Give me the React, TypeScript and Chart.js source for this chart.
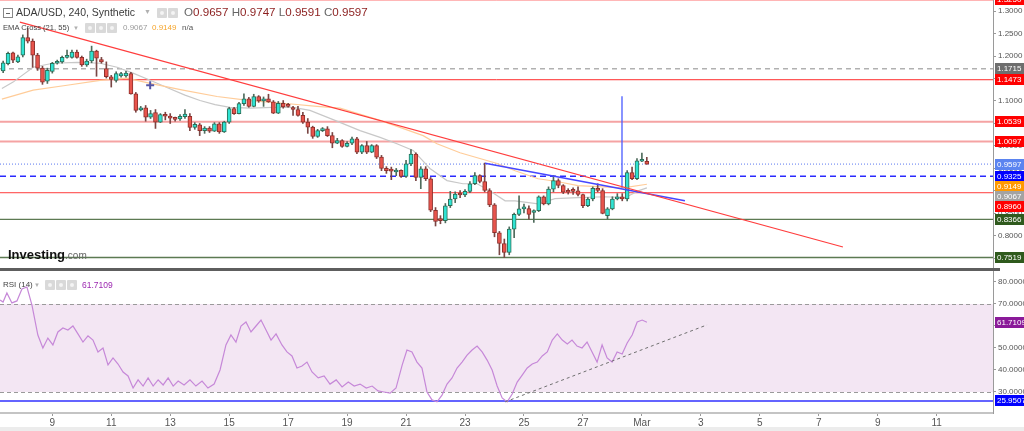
import React, { useEffect, useRef } from "react";
import { Chart, registerables } from "chart.js";

Chart.register(...registerables);

const FONT = "'Liberation Sans', Arial, sans-serif";
const NARROW = "'Liberation Sans Narrow', 'Liberation Sans', Arial, sans-serif";

// ---------- data ----------
const candleStartDay = 7 + 8 / 24; // Feb 7, 08:00 (x axis in days of February)
const candleStepDays = 4 / 24; // 240-minute candles

const candleOpen = [
  1.167, 1.183, 1.207, 1.187, 1.202, 1.241, 1.233, 1.202, 1.173, 1.144,
  1.166, 1.184, 1.187, 1.197, 1.197, 1.209, 1.197, 1.180, 1.189, 1.211,
  1.192, 1.172, 1.154, 1.146, 1.156, 1.156, 1.161, 1.116, 1.080, 1.085,
  1.064, 1.074, 1.053, 1.070, 1.064, 1.061, 1.060, 1.065, 1.066, 1.041,
  1.047, 1.034, 1.040, 1.033, 1.049, 1.031, 1.053, 1.083, 1.072, 1.094,
  1.105, 1.088, 1.110, 1.100, 1.105, 1.098, 1.073, 1.095, 1.089, 1.085,
  1.081, 1.068, 1.053, 1.042, 1.021, 1.034, 1.038, 1.023, 1.006, 1.012,
  0.999, 1.006, 1.016, 0.986, 1.001, 0.986, 1.001, 0.975, 0.950, 0.946,
  0.942, 0.946, 0.932, 0.960, 0.982, 0.930, 0.949, 0.927, 0.857, 0.838,
  0.834, 0.867, 0.882, 0.893, 0.891, 0.899, 0.916, 0.934, 0.921, 0.901,
  0.869, 0.807, 0.783, 0.763, 0.815, 0.848, 0.860, 0.861, 0.852, 0.856,
  0.887, 0.871, 0.904, 0.923, 0.912, 0.900, 0.901, 0.900, 0.892, 0.867,
  0.882, 0.906, 0.901, 0.845, 0.860, 0.882, 0.887, 0.882, 0.941, 0.927,
  0.966, 0.9657,
];
const candleHigh = [
  1.189, 1.209, 1.209, 1.202, 1.247, 1.262, 1.238, 1.206, 1.177, 1.173,
  1.186, 1.191, 1.200, 1.213, 1.213, 1.213, 1.200, 1.193, 1.222, 1.213,
  1.197, 1.187, 1.157, 1.165, 1.164, 1.166, 1.164, 1.119, 1.088, 1.090,
  1.079, 1.081, 1.072, 1.075, 1.072, 1.064, 1.070, 1.081, 1.072, 1.052,
  1.050, 1.043, 1.043, 1.052, 1.052, 1.055, 1.086, 1.086, 1.097, 1.116,
  1.108, 1.115, 1.112, 1.109, 1.115, 1.101, 1.099, 1.101, 1.095, 1.088,
  1.088, 1.075, 1.061, 1.044, 1.037, 1.041, 1.043, 1.030, 1.017, 1.014,
  1.010, 1.020, 1.019, 1.003, 1.010, 1.003, 1.003, 0.979, 0.954, 0.953,
  0.950, 0.947, 0.968, 0.992, 0.985, 0.954, 0.954, 0.930, 0.863, 0.845,
  0.872, 0.899, 0.898, 0.901, 0.903, 0.921, 0.941, 0.936, 0.962, 0.905,
  0.872, 0.810, 0.793, 0.820, 0.851, 0.889, 0.871, 0.867, 0.858, 0.889,
  0.889, 0.909, 0.934, 0.927, 0.914, 0.905, 0.907, 0.909, 0.893, 0.885,
  0.909, 0.916, 0.905, 0.863, 0.887, 0.894, 0.894, 0.945, 0.953, 0.972,
  0.984, 0.9747,
];
const candleLow = [
  1.163, 1.180, 1.185, 1.185, 1.198, 1.229, 1.175, 1.168, 1.137, 1.139,
  1.162, 1.182, 1.184, 1.195, 1.195, 1.195, 1.177, 1.177, 1.185, 1.155,
  1.184, 1.151, 1.131, 1.142, 1.153, 1.153, 1.115, 1.075, 1.078, 1.055,
  1.061, 1.039, 1.052, 1.058, 1.050, 1.055, 1.057, 1.061, 1.034, 1.037,
  1.023, 1.028, 1.030, 1.032, 1.028, 1.030, 1.050, 1.070, 1.071, 1.090,
  1.086, 1.087, 1.097, 1.088, 1.097, 1.072, 1.072, 1.084, 1.086, 1.068,
  1.066, 1.050, 1.028, 1.017, 1.019, 1.032, 1.021, 0.996, 1.005, 0.997,
  0.998, 1.003, 0.983, 0.983, 0.983, 0.985, 0.972, 0.945, 0.939, 0.925,
  0.934, 0.930, 0.930, 0.956, 0.923, 0.905, 0.923, 0.854, 0.822, 0.827,
  0.829, 0.863, 0.874, 0.885, 0.887, 0.896, 0.914, 0.918, 0.898, 0.865,
  0.798, 0.758, 0.752, 0.758, 0.796, 0.845, 0.851, 0.837, 0.830, 0.854,
  0.869, 0.869, 0.898, 0.907, 0.894, 0.893, 0.892, 0.889, 0.863, 0.865,
  0.878, 0.898, 0.849, 0.838, 0.858, 0.880, 0.878, 0.878, 0.925, 0.925,
  0.965, 0.9591,
];
const candleClose = [
  1.185, 1.206, 1.191, 1.198, 1.241, 1.233, 1.202, 1.173, 1.142, 1.168,
  1.184, 1.187, 1.197, 1.200, 1.209, 1.197, 1.180, 1.189, 1.211, 1.195,
  1.187, 1.154, 1.148, 1.161, 1.161, 1.162, 1.116, 1.079, 1.085, 1.064,
  1.072, 1.053, 1.070, 1.066, 1.062, 1.059, 1.066, 1.071, 1.041, 1.048,
  1.034, 1.040, 1.033, 1.049, 1.031, 1.053, 1.083, 1.072, 1.094, 1.105,
  1.088, 1.110, 1.100, 1.105, 1.098, 1.073, 1.095, 1.087, 1.088, 1.081,
  1.068, 1.053, 1.042, 1.021, 1.034, 1.038, 1.023, 1.006, 1.012, 0.999,
  1.006, 1.016, 0.986, 1.001, 0.986, 1.001, 0.975, 0.950, 0.945, 0.944,
  0.946, 0.932, 0.960, 0.982, 0.930, 0.949, 0.927, 0.857, 0.832, 0.834,
  0.867, 0.882, 0.893, 0.891, 0.899, 0.916, 0.934, 0.921, 0.901, 0.869,
  0.807, 0.783, 0.763, 0.815, 0.848, 0.860, 0.861, 0.848, 0.856, 0.887,
  0.871, 0.904, 0.923, 0.912, 0.897, 0.897, 0.899, 0.892, 0.867, 0.882,
  0.906, 0.901, 0.850, 0.860, 0.882, 0.887, 0.882, 0.941, 0.927, 0.967,
  0.970, 0.9597,
];

// EMA Cross (21, 55)
const emaFastDays = [
  7.29, 7.67, 8.35, 9.02, 9.84, 10.62, 11.2, 11.74, 12.32, 12.89,
  13.5, 14.01, 14.52, 15.03, 15.71, 16.49, 17.17, 17.74, 18.59, 19.44,
  20.12, 20.69, 21.24, 21.81, 22.39, 22.93, 23.41, 23.85, 24.36, 24.7,
  25.48, 26.05, 26.83, 27.75, 28.43, 28.87, 29.17,
];
const emaFastValues = [
  1.128, 1.142, 1.175, 1.184, 1.186, 1.184, 1.175, 1.162, 1.146, 1.13,
  1.113, 1.101, 1.092, 1.086, 1.084, 1.086, 1.086, 1.079, 1.057, 1.034,
  1.019, 1.005, 0.99, 0.95, 0.923, 0.916, 0.916, 0.9, 0.878, 0.878,
  0.871, 0.883, 0.885, 0.887, 0.885, 0.9, 0.9067,
];
const emaSlowDays = [
  7.29, 8.35, 9.5, 10.62, 11.53, 12.32, 13.43, 14.59, 15.71, 16.83,
  17.98, 18.76, 20.12, 21.58, 22.05, 22.83, 24.09, 24.7, 25.48, 26.12,
  26.83, 28.36, 29.17,
];
const emaSlowValues = [
  1.104, 1.124, 1.135, 1.146, 1.151, 1.139, 1.124, 1.11, 1.101, 1.095,
  1.088, 1.084, 1.057, 1.023, 1.005, 0.985, 0.961, 0.945, 0.927, 0.921,
  0.912, 0.907, 0.9149,
];

// horizontal levels drawn on the price panel
const levelValues = [1.325, 1.1715, 1.1473, 1.0539, 1.0097, 0.9325, 0.896, 0.8366, 0.7519];
// drawings
const trendRedDays = [7.9, 35.82];
const trendRedValues = [1.2755, 0.7754];
const trendBlueDays = [23.68, 30.46];
const trendBlueValues = [0.9618, 0.8781];
const verticalDays = [28.325, 28.325];
const verticalValues = [1.1103, 0.9071];
const crossDays = [12.32];
const crossValues = [1.1348];

// axes
const priceTicks = [0.75, 0.8, 0.85, 0.9, 0.95, 1.0, 1.05, 1.1, 1.15, 1.2, 1.25, 1.3];
const dayTicks = [9, 11, 13, 15, 17, 19, 21, 23, 25, 27, 29, 31, 33, 35, 37, 39];
const rsiTicks = [30, 40, 50, 60, 70, 80];

// RSI (14)
const rsiDays = [
  7.23, 7.33, 7.46, 7.63, 7.8, 7.97, 8.14, 8.31, 8.51, 8.68,
  8.85, 9.02, 9.19, 9.36, 9.53, 9.7, 9.87, 10.04, 10.21, 10.38,
  10.55, 10.72, 10.89, 11.06, 11.23, 11.4, 11.57, 11.74, 11.91, 12.08,
  12.25, 12.42, 12.59, 12.76, 12.93, 13.1, 13.27, 13.47, 13.67, 13.87,
  14.08, 14.28, 14.49, 14.69, 14.89, 15.06, 15.23, 15.4, 15.57, 15.74,
  15.91, 16.08, 16.25, 16.42, 16.59, 16.79, 16.96, 17.13, 17.3, 17.47,
  17.64, 17.81, 18.02, 18.22, 18.42, 18.63, 18.83, 19.04, 19.24, 19.44,
  19.65, 19.85, 20.05, 20.25, 20.46, 20.66, 20.87, 21.03, 21.2, 21.37,
  21.54, 21.71, 21.88, 22.05, 22.22, 22.39, 22.56, 22.73, 22.9, 23.07,
  23.24, 23.41, 23.58, 23.75, 23.92, 24.09, 24.26, 24.43, 24.6, 24.77,
  24.94, 25.11, 25.28, 25.45, 25.62, 25.79, 25.96, 26.13, 26.3, 26.47,
  26.63, 26.8, 26.97, 27.14, 27.31, 27.48, 27.65, 27.82, 27.99, 28.16,
  28.33, 28.5, 28.67, 28.84, 29.01, 29.17,
];
const rsiValues = [
  71.8, 70.9, 75.0, 70.5, 71.4, 76.8, 77.7, 69.5, 55.9, 50.0,
  54.5, 51.4, 57.3, 59.1, 58.2, 60.0, 56.4, 52.7, 55.5, 53.6,
  48.2, 50.0, 42.3, 45.5, 42.7, 39.1, 37.3, 31.8, 35.5, 32.7,
  36.4, 32.7, 35.5, 33.2, 36.4, 32.7, 35.0, 33.2, 35.5, 32.7,
  35.0, 31.8, 33.6, 40.0, 51.4, 55.9, 52.7, 60.0, 61.8, 57.3,
  60.0, 62.7, 58.2, 53.6, 56.4, 51.4, 48.2, 46.4, 40.9, 41.8,
  43.6, 39.1, 36.4, 37.3, 33.6, 35.5, 32.3, 34.5, 32.7, 33.6,
  31.8, 32.7, 30.5, 30.0, 29.5, 31.8, 42.3, 49.1, 48.2, 43.6,
  40.9, 30.0, 26.4, 25.5, 28.6, 33.6, 36.4, 40.9, 43.6, 46.8,
  49.1, 50.9, 48.2, 44.5, 40.0, 32.7, 27.3, 25.5, 29.1, 34.5,
  37.7, 40.9, 42.7, 43.6, 46.4, 48.2, 53.6, 56.4, 53.6, 51.8,
  53.6, 50.9, 50.0, 52.7, 48.2, 43.6, 51.4, 45.5, 43.6, 48.2,
  47.3, 52.3, 55.9, 61.8, 62.7, 61.7109,
];
const rsiBand = [30, 70];
const rsiLowLevel = 25.9507;
const rsiTrendDays = [24.36, 31.21];
const rsiTrendValues = [25.5, 60.5];

// ---------- styles ----------
const X_MIN = 7.226;
const X_MAX = 40.91;
const PRICE_MIN = 0.7286;
const PRICE_MAX = 1.3246;
const RSI_MIN = 20.45;
const RSI_MAX = 85;
const AXIS_W = 31;
const AXIS_FONT_SIZE = 8;

const levelColors = ["#ff1a1a", "#8a8a8a", "#ff2a2a", "#f5a3a3", "#f5a3a3", "#2a2aff", "#ff3b3b", "#5c7a52", "#5c7a52"];
const levelWidths = [1, 1, 1, 2, 2, 1.5, 1, 1.3, 1.3];
const levelDashes: number[][] = [[], [5, 4], [], [], [], [6, 4], [], [], []];
const levelTagColors = ["#ff0000", "#6e6e6e", "#ff0000", "#ff0000", "#ff0000", "#0000ff", "#ff0000", "#2f5a1d", "#2f5a1d"];

const dayLabel = (d: number) => (d <= 28 ? String(d) : d === 29 ? "Mar" : String(d - 28));

type Tag = { value: number; text: string; color: string };

function makeTagsPlugin(tags: Tag[]) {
  return {
    id: "axisTags",
    afterDraw(chart: any) {
      const { ctx, chartArea: a, scales } = chart;
      const y = scales.y;
      const h = 11;
      const items = tags
        .map((t) => ({ ...t, py: y.getPixelForValue(t.value) }))
        .sort((p, q) => p.py - q.py);
      for (let i = 1; i < items.length; i++) {
        if (items[i].py < items[i - 1].py + h - 1) items[i].py = items[i - 1].py + h - 1;
      }
      ctx.save();
      ctx.font = `${AXIS_FONT_SIZE}px ${FONT}`;
      ctx.textBaseline = "middle";
      ctx.textAlign = "left";
      for (const it of items) {
        const top = Math.round(it.py - h / 2);
        ctx.fillStyle = it.color;
        ctx.fillRect(a.right + 2, top, chart.width - a.right - 2, h);
        ctx.fillStyle = "#ffffff";
        ctx.fillText(it.text, a.right + 4, top + h / 2 + 0.5);
      }
      ctx.restore();
    },
  };
}

const rsiBandPlugin = {
  id: "rsiBand",
  beforeDatasetsDraw(chart: any) {
    const { ctx, chartArea: a, scales } = chart;
    const y = scales.y;
    const yTop = Math.round(y.getPixelForValue(rsiBand[1]));
    const yBot = Math.round(y.getPixelForValue(rsiBand[0]));
    ctx.save();
    ctx.fillStyle = "#f3e6f3";
    ctx.fillRect(a.left, yTop, a.right - a.left, yBot - yTop);
    ctx.strokeStyle = "#9a9a9a";
    ctx.lineWidth = 1;
    ctx.setLineDash([4, 3]);
    for (const py of [yTop, yBot]) {
      ctx.beginPath();
      ctx.moveTo(a.left, py + 0.5);
      ctx.lineTo(a.right, py + 0.5);
      ctx.stroke();
    }
    ctx.restore();
  },
};

const xy = (xs: number[], ys: number[]) => xs.map((x, i) => ({ x, y: ys[i] }));

const zeroPadding = (s: any) => {
  s.paddingTop = 0;
  s.paddingBottom = 0;
  s.paddingLeft = 0;
  s.paddingRight = 0;
};

const rightAxis = (min: number, max: number, ticks: number[]) => ({
  type: "linear",
  position: "right",
  min,
  max,
  afterBuildTicks: (s: any) => {
    s.ticks = ticks.map((v) => ({ value: v }));
  },
  afterFit: (s: any) => {
    s.width = AXIS_W;
    zeroPadding(s);
  },
  ticks: {
    autoSkip: false,
    padding: 2,
    color: "#555",
    font: { family: FONT, size: AXIS_FONT_SIZE },
    callback: (v: any) => Number(v).toFixed(4),
  },
  grid: { drawOnChartArea: false, drawTicks: true, tickLength: 3, color: "#9a9a9a" },
  border: { display: true, color: "#9a9a9a", width: 1 },
});

function priceConfig(): any {
  const times = candleOpen.map((_, i) => candleStartDay + i * candleStepDays);
  const isUp = candleOpen.map((o, i) => candleClose[i] >= o);
  const lastClose = candleClose[candleClose.length - 1];
  const line = (data: any[], color: string, width: number, dash: number[], order: number) => ({
    type: "line",
    data,
    borderColor: color,
    borderWidth: width,
    borderDash: dash,
    pointRadius: 0,
    tension: 0,
    fill: false,
    order,
  });
  const datasets: any[] = [];
  levelValues.forEach((v, i) => {
    datasets.push(line(xy([X_MIN, X_MAX], [v, v]), levelColors[i], levelWidths[i], levelDashes[i], 5));
  });
  datasets.push(line(xy([X_MIN, X_MAX], [lastClose, lastClose]), "#5a78f0", 1, [1, 2], 5));
  datasets.push(line(xy(emaSlowDays, emaSlowValues), "#ffcc99", 1.2, [], 4));
  datasets.push(line(xy(emaFastDays, emaFastValues), "#c8c8c8", 1.2, [], 4));
  datasets.push({
    type: "bar",
    data: times.map((t, i) => ({ x: t, y: [candleLow[i], candleHigh[i]] })),
    backgroundColor: isUp.map((u) => (u ? "#4f6b5c" : "#7a4644")),
    borderWidth: 0,
    barThickness: 1,
    grouped: false,
    order: 3,
  });
  datasets.push({
    type: "bar",
    data: times.map((t, i) => ({
      x: t,
      y: [Math.min(candleOpen[i], candleClose[i]), Math.max(candleOpen[i], candleClose[i])],
    })),
    backgroundColor: isUp.map((u) => (u ? "#2fe3d3" : "#e8544c")),
    borderColor: isUp.map((u) => (u ? "#2d6e57" : "#8e302c")),
    borderWidth: 1,
    borderSkipped: false,
    barThickness: 4,
    minBarLength: 2,
    grouped: false,
    order: 2,
  });
  datasets.push(line(xy(trendRedDays, trendRedValues), "#ff3d3d", 1.2, [], 1));
  datasets.push(line(xy(trendBlueDays, trendBlueValues), "#4646ff", 1.5, [], 1));
  datasets.push(line(xy(verticalDays, verticalValues), "#4a5cff", 1.3, [], 1));
  datasets.push({
    type: "line",
    data: xy(crossDays, crossValues),
    showLine: false,
    pointStyle: "cross",
    pointRadius: 4,
    pointBorderWidth: 2,
    pointBorderColor: "#5656a6",
    borderColor: "#5656a6",
    order: 0,
  });

  const tags: Tag[] = levelValues.map((v, i) => ({ value: v, text: v.toFixed(4), color: levelTagColors[i] }));
  tags.push({ value: lastClose, text: lastClose.toFixed(4), color: "#5b84f0" });
  const emaSlowLast = emaSlowValues[emaSlowValues.length - 1];
  const emaFastLast = emaFastValues[emaFastValues.length - 1];
  tags.push({ value: emaSlowLast, text: emaSlowLast.toFixed(4), color: "#ff9900" });
  tags.push({ value: emaFastLast, text: emaFastLast.toFixed(4), color: "#a3a3a3" });

  return {
    type: "bar",
    data: { datasets },
    options: {
      animation: false,
      responsive: false,
      devicePixelRatio: 1,
      layout: { padding: 0, autoPadding: false },
      plugins: { legend: { display: false }, tooltip: { enabled: false } },
      scales: {
        x: { type: "linear", display: false, min: X_MIN, max: X_MAX, offset: false },
        y: rightAxis(PRICE_MIN, PRICE_MAX, priceTicks),
      },
    },
    plugins: [makeTagsPlugin(tags)],
  };
}

function rsiConfig(): any {
  const lastRsi = rsiValues[rsiValues.length - 1];
  return {
    type: "line",
    data: {
      datasets: [
        {
          data: xy(rsiTrendDays, rsiTrendValues),
          borderColor: "#707070",
          borderWidth: 1,
          borderDash: [3, 3],
          pointRadius: 0,
          order: 0,
        },
        {
          data: xy(rsiDays, rsiValues),
          borderColor: "#c688d8",
          borderWidth: 1.2,
          pointRadius: 0,
          tension: 0,
          order: 1,
        },
        {
          data: xy([X_MIN, X_MAX], [rsiLowLevel, rsiLowLevel]),
          borderColor: "#3030ff",
          borderWidth: 1.5,
          pointRadius: 0,
          order: 2,
        },
      ],
    },
    options: {
      animation: false,
      responsive: false,
      devicePixelRatio: 1,
      layout: { padding: 0, autoPadding: false },
      plugins: { legend: { display: false }, tooltip: { enabled: false } },
      scales: {
        x: {
          type: "linear",
          min: X_MIN,
          max: X_MAX,
          offset: false,
          afterBuildTicks: (s: any) => {
            s.ticks = dayTicks.map((v) => ({ value: v }));
          },
          afterFit: (s: any) => {
            s.height = 18;
            zeroPadding(s);
          },
          ticks: {
            autoSkip: false,
            maxRotation: 0,
            padding: 1,
            color: "#555",
            font: { family: NARROW, size: 10 },
            callback: (v: any) => dayLabel(Number(v)),
          },
          grid: { drawOnChartArea: false, drawTicks: true, tickLength: 3, color: "#9a9a9a" },
          border: { display: true, color: "#c4c4c4", width: 2 },
        },
        y: rightAxis(RSI_MIN, RSI_MAX, rsiTicks),
      },
    },
    plugins: [
      rsiBandPlugin,
      makeTagsPlugin([
        { value: lastRsi, text: lastRsi.toFixed(4), color: "#8a1a99" },
        { value: rsiLowLevel, text: rsiLowLevel.toFixed(4), color: "#0000ff" },
      ]),
    ],
  };
}

const IconBox = ({ left, top }: { left: number; top: number }) => (
  <div
    style={{
      position: "absolute",
      left,
      top,
      width: 10,
      height: 10,
      background: "#d9d9d9",
      borderRadius: 1,
    }}
  >
    <div
      style={{
        position: "absolute",
        left: 3,
        top: 3,
        width: 4,
        height: 4,
        borderRadius: 2,
        background: "#f4f4f4",
      }}
    />
  </div>
);

const abs = (left: number, top: number, extra: any = {}) => ({
  position: "absolute" as const,
  left,
  top,
  whiteSpace: "nowrap" as const,
  ...extra,
});

export default function App() {
  const priceRef = useRef<HTMLCanvasElement>(null);
  const rsiRef = useRef<HTMLCanvasElement>(null);

  useEffect(() => {
    const pc = new Chart(priceRef.current as HTMLCanvasElement, priceConfig());
    const rc = new Chart(rsiRef.current as HTMLCanvasElement, rsiConfig());
    return () => {
      pc.destroy();
      rc.destroy();
    };
  }, []);

  const lastO = candleOpen[candleOpen.length - 1];
  const lastH = candleHigh[candleHigh.length - 1];
  const lastL = candleLow[candleLow.length - 1];
  const lastC = candleClose[candleClose.length - 1];
  const valStyle = { color: "#8b1e1e" };

  return (
    <div
      style={{
        position: "fixed",
        left: 0,
        top: 0,
        width: 1024,
        height: 431,
        background: "#ffffff",
        overflow: "hidden",
        fontFamily: FONT,
      }}
    >
      <div style={abs(0, 427, { width: 1024, height: 4, background: "#ececec" })} />
      <canvas ref={priceRef} width={1024} height={268} style={abs(0, 0, { width: 1024, height: 268 })} />
      <div style={abs(0, 268, { width: 1000, height: 3, background: "#5e5e5e" })} />
      <canvas ref={rsiRef} width={1024} height={160} style={abs(0, 271, { width: 1024, height: 160 })} />

      {/* header line 1 */}
      <div style={abs(3, 8, { width: 8, height: 8, border: "1px solid #888", background: "#fff" })}>
        <div style={abs(2, 3.5, { width: 4, height: 1, background: "#666" })} />
      </div>
      <div style={abs(16, 5, { fontSize: 10.5, lineHeight: "14px", color: "#3a3a3a" })}>
        ADA/USD, 240, Synthetic
      </div>
      <div style={abs(144, 5, { fontSize: 7, lineHeight: "14px", color: "#b0b0b0" })}>▼</div>
      <IconBox left={157} top={8} />
      <IconBox left={168} top={8} />
      <div style={abs(184, 5, { fontSize: 11.6, lineHeight: "14px", color: "#666" })}>
        O<span style={valStyle}>{lastO.toFixed(4)}</span> H<span style={valStyle}>{lastH.toFixed(4)}</span> L
        <span style={valStyle}>{lastL.toFixed(4)}</span> C<span style={valStyle}>{lastC.toFixed(4)}</span>
      </div>

      {/* header line 2 */}
      <div style={abs(3, 22, { fontSize: 7.6, lineHeight: "12px", color: "#444" })}>EMA Cross (21, 55)</div>
      <div style={abs(73, 22, { fontSize: 6, lineHeight: "12px", color: "#b0b0b0" })}>▼</div>
      <IconBox left={85} top={23} />
      <IconBox left={96} top={23} />
      <IconBox left={107} top={23} />
      <div style={abs(123, 22, { fontSize: 8, lineHeight: "12px", color: "#9a9a9a" })}>
        {emaFastValues[emaFastValues.length - 1].toFixed(4)}
      </div>
      <div style={abs(152, 22, { fontSize: 8, lineHeight: "12px", color: "#f5a42a" })}>
        {emaSlowValues[emaSlowValues.length - 1].toFixed(4)}
      </div>
      <div style={abs(182, 22, { fontSize: 8, lineHeight: "12px", color: "#555" })}>n/a</div>

      {/* logo */}
      <div style={abs(8, 247, { fontSize: 13, lineHeight: "16px", color: "#111", fontWeight: "bold" })}>
        Investing<span style={{ fontWeight: "normal", fontSize: 10, color: "#666" }}>.com</span>
      </div>

      {/* RSI legend */}
      <div style={abs(3, 279, { fontSize: 8, lineHeight: "12px", color: "#444" })}>RSI (14)</div>
      <div style={abs(34, 279, { fontSize: 6, lineHeight: "12px", color: "#b0b0b0" })}>▼</div>
      <IconBox left={45} top={280} />
      <IconBox left={56} top={280} />
      <IconBox left={67} top={280} />
      <div style={abs(82, 279, { fontSize: 8.5, lineHeight: "12px", color: "#9c27b0" })}>
        {rsiValues[rsiValues.length - 1].toFixed(4)}
      </div>
    </div>
  );
}
